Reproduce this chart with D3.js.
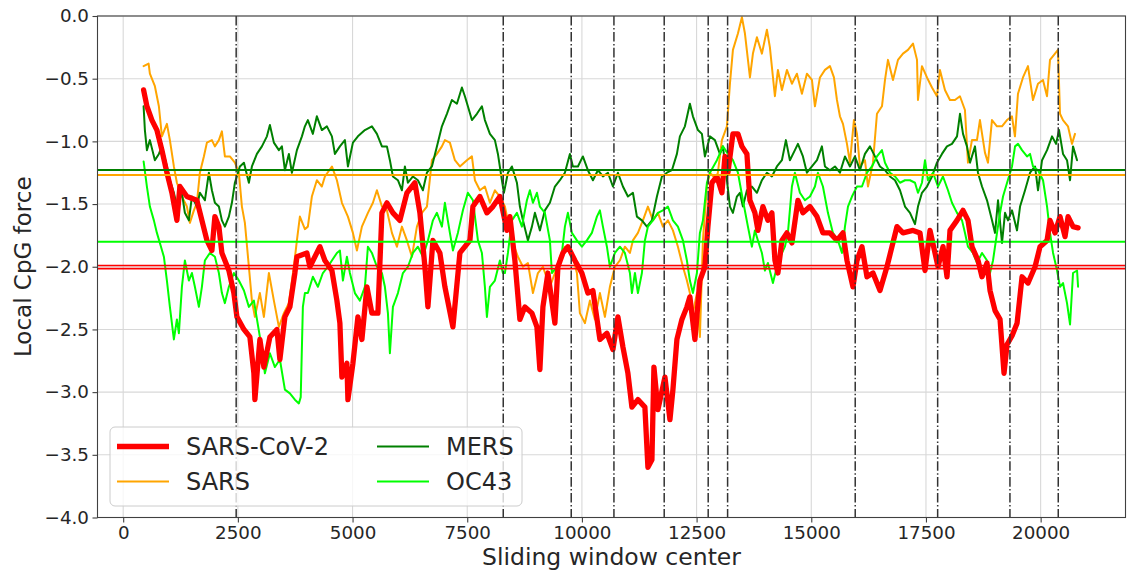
<!DOCTYPE html>
<html>
<head>
<meta charset="utf-8">
<script src="https://cdn.jsdelivr.net/npm/d3@7"></script>
<style>
body { margin: 0; background: #fff; }
svg { display: block; font-family: "DejaVu Sans", sans-serif; }
</style>
</head>
<body>
<script>
// series: [window center, local CpG force]
const sarsCov2 = [[445,-0.59],[517,-0.72],[626,-0.83],[735,-0.91],[844,-1.07],[953,-1.25],[1062,-1.41],[1171,-1.63],[1236,-1.36],[1389,-1.44],[1607,-1.47],[1716,-1.63],[1825,-1.79],[1934,-1.87],[1999,-1.60],[2086,-1.68],[2152,-1.89],[2304,-2.03],[2413,-2.21],[2479,-2.40],[2632,-2.50],[2762,-2.56],[2849,-2.85],[2871,-3.06],[2980,-2.58],[3067,-2.80],[3198,-2.56],[3351,-2.50],[3416,-2.74],[3525,-2.40],[3634,-2.32],[3743,-2.05],[3787,-1.92],[4005,-1.89],[4070,-2.00],[4288,-1.84],[4397,-1.95],[4550,-2.03],[4659,-2.27],[4724,-2.45],[4768,-2.88],[4877,-2.77],[4899,-3.06],[5008,-2.77],[5117,-2.40],[5204,-2.58],[5313,-2.16],[5422,-2.37],[5553,-2.37],[5640,-1.57],[5749,-1.49],[5880,-1.57],[6032,-1.63],[6185,-1.41],[6359,-1.33],[6468,-1.57],[6577,-2.00],[6643,-2.32],[6752,-1.79],[6904,-1.89],[7013,-2.16],[7188,-2.48],[7340,-1.89],[7558,-1.79],[7624,-1.52],[7776,-1.44],[7929,-1.57],[8060,-1.52],[8212,-1.44],[8365,-1.71],[8430,-1.60],[8539,-1.95],[8648,-2.42],[8757,-2.32],[8910,-2.37],[9019,-2.48],[9084,-2.82],[9150,-2.32],[9259,-2.05],[9411,-2.45],[9477,-2.00],[9586,-1.89],[9695,-1.84],[9847,-1.95],[9999,-2.05],[10130,-2.21],[10240,-2.19],[10392,-2.58],[10545,-2.53],[10676,-2.66],[10785,-2.40],[10894,-2.64],[11003,-2.85],[11090,-3.12],[11221,-3.06],[11373,-3.12],[11439,-3.60],[11526,-3.54],[11570,-2.80],[11657,-3.14],[11810,-2.88],[11919,-3.22],[11984,-2.98],[12071,-2.58],[12180,-2.42],[12289,-2.32],[12354,-2.24],[12463,-2.58],[12572,-2.11],[12681,-2.00],[12747,-1.68],[12834,-1.33],[12943,-1.28],[13052,-1.41],[13118,-1.12],[13183,-1.25],[13292,-0.94],[13401,-0.94],[13488,-1.04],[13597,-1.10],[13662,-1.47],[13771,-1.57],[13837,-1.71],[13946,-1.52],[14055,-1.63],[14142,-1.57],[14208,-1.95],[14273,-2.05],[14360,-1.79],[14469,-1.73],[14578,-1.81],[14709,-1.47],[14818,-1.57],[14971,-1.52],[15124,-1.60],[15254,-1.73],[15407,-1.73],[15560,-1.79],[15691,-1.73],[15778,-1.95],[15909,-2.16],[15996,-1.95],[16105,-1.84],[16214,-2.08],[16345,-2.05],[16498,-2.19],[16650,-2.00],[16759,-1.84],[16868,-1.68],[17000,-1.73],[17218,-1.71],[17370,-1.73],[17479,-2.03],[17588,-1.71],[17697,-1.89],[17763,-2.00],[17872,-1.84],[17959,-2.08],[18024,-1.71],[18177,-1.63],[18308,-1.55],[18417,-1.63],[18504,-1.84],[18635,-1.95],[18722,-2.08],[18831,-1.97],[18897,-2.19],[19006,-2.35],[19115,-2.42],[19202,-2.85],[19268,-2.62],[19377,-2.55],[19486,-2.45],[19595,-2.08],[19726,-2.13],[19878,-2.00],[19987,-1.84],[20140,-1.79],[20205,-1.63],[20314,-1.73],[20423,-1.60],[20532,-1.76],[20598,-1.60],[20707,-1.68],[20816,-1.69]];

const sars = [[445,-0.40],[554,-0.38],[582,-0.46],[691,-0.56],[778,-0.72],[844,-0.96],[953,-0.86],[1018,-0.99],[1105,-1.20],[1171,-1.33],[1280,-1.44],[1389,-1.52],[1454,-1.65],[1541,-1.55],[1607,-1.49],[1672,-1.25],[1759,-1.12],[1825,-1.01],[1934,-0.99],[1999,-1.04],[2086,-0.99],[2152,-0.92],[2217,-1.12],[2326,-1.12],[2435,-1.17],[2522,-1.25],[2588,-1.52],[2653,-1.65],[2740,-2.00],[2806,-2.27],[2871,-2.40],[2980,-2.21],[3067,-2.40],[3176,-2.05],[3285,-2.27],[3394,-2.48],[3503,-2.37],[3612,-2.29],[3721,-2.00],[3787,-1.79],[3852,-1.60],[3961,-1.70],[4026,-1.68],[4113,-1.44],[4222,-1.31],[4331,-1.36],[4397,-1.28],[4550,-1.20],[4659,-1.31],[4768,-1.49],[4899,-1.60],[5008,-1.73],[5095,-1.87],[5204,-1.68],[5335,-1.57],[5444,-1.49],[5531,-1.39],[5640,-1.52],[5749,-1.55],[5858,-1.73],[5967,-1.84],[6076,-1.68],[6185,-1.79],[6294,-1.92],[6403,-1.68],[6512,-1.57],[6621,-1.52],[6730,-1.15],[6839,-1.10],[6948,-1.04],[7013,-0.99],[7122,-1.01],[7231,-1.15],[7340,-1.20],[7493,-1.15],[7602,-1.12],[7667,-1.31],[7776,-1.39],[7885,-1.36],[7994,-1.49],[8103,-1.39],[8212,-1.44],[8321,-1.52],[8474,-1.79],[8605,-1.92],[8714,-2.00],[8823,-1.97],[8932,-2.21],[9041,-2.05],[9150,-2.00],[9302,-2.16],[9411,-2.05],[9520,-1.92],[9629,-1.84],[9782,-1.89],[9891,-2.05],[9956,-2.37],[10065,-2.45],[10174,-2.27],[10283,-2.42],[10392,-2.21],[10501,-2.40],[10610,-2.16],[10719,-2.00],[10828,-1.95],[10937,-1.84],[11046,-1.89],[11112,-1.79],[11221,-1.73],[11330,-1.63],[11439,-1.52],[11548,-1.63],[11657,-1.57],[11766,-1.68],[11875,-1.63],[11984,-1.71],[12093,-1.84],[12202,-2.00],[12289,-2.11],[12354,-2.21],[12420,-2.37],[12507,-2.21],[12572,-2.56],[12638,-1.79],[12725,-1.36],[12790,-1.25],[12943,-1.31],[13052,-0.99],[13161,-0.88],[13227,-0.54],[13292,-0.27],[13401,-0.14],[13488,-0.01],[13554,-0.14],[13663,-0.49],[13728,-0.30],[13815,-0.17],[13924,-0.30],[14033,-0.11],[14098,-0.25],[14207,-0.64],[14273,-0.43],[14360,-0.59],[14469,-0.43],[14578,-0.54],[14687,-0.46],[14796,-0.62],[14905,-0.46],[15014,-0.51],[15080,-0.72],[15189,-0.49],[15298,-0.43],[15407,-0.40],[15494,-0.49],[15560,-0.67],[15625,-0.80],[15691,-0.86],[15778,-1.02],[15843,-1.17],[15930,-0.83],[15996,-0.94],[16061,-1.20],[16170,-1.15],[16236,-1.36],[16345,-1.17],[16432,-0.78],[16541,-0.72],[16607,-0.51],[16672,-0.35],[16781,-0.51],[16890,-0.35],[16999,-0.30],[17108,-0.27],[17217,-0.22],[17305,-0.35],[17326,-0.67],[17413,-0.40],[17522,-0.49],[17631,-0.57],[17740,-0.64],[17805,-0.43],[17914,-0.59],[18023,-0.67],[18132,-0.67],[18241,-0.64],[18350,-0.75],[18416,-1.17],[18503,-0.99],[18612,-0.99],[18677,-0.83],[18786,-1.09],[18852,-1.17],[18939,-0.83],[19048,-0.88],[19157,-0.88],[19266,-0.83],[19375,-0.80],[19440,-0.96],[19506,-0.62],[19615,-0.49],[19724,-0.40],[19833,-0.67],[19942,-0.54],[20051,-0.51],[20139,-0.64],[20204,-0.35],[20313,-0.30],[20378,-0.27],[20422,-0.78],[20487,-0.83],[20596,-0.88],[20683,-1.02],[20749,-0.94]];

const mers = [[445,-0.72],[473,-0.91],[517,-1.07],[582,-0.99],[691,-1.15],[778,-1.10],[844,-1.04],[953,-1.20],[1018,-1.31],[1105,-1.41],[1171,-1.52],[1280,-1.41],[1345,-1.57],[1432,-1.63],[1498,-1.44],[1607,-1.52],[1672,-1.41],[1781,-1.47],[1868,-1.25],[1934,-1.39],[1999,-1.49],[2086,-1.52],[2152,-1.63],[2217,-1.68],[2304,-1.60],[2370,-1.49],[2435,-1.33],[2544,-1.20],[2632,-1.17],[2740,-1.33],[2806,-1.20],[2915,-1.10],[3024,-1.04],[3133,-0.96],[3198,-0.87],[3285,-1.01],[3394,-1.07],[3460,-1.04],[3525,-1.23],[3612,-1.10],[3678,-1.25],[3787,-1.07],[3896,-0.96],[3961,-0.88],[4026,-0.83],[4135,-0.94],[4222,-0.80],[4331,-0.91],[4441,-0.88],[4550,-0.96],[4615,-1.10],[4724,-1.04],[4833,-0.99],[4899,-1.20],[5008,-1.01],[5117,-0.96],[5269,-0.91],[5422,-0.88],[5531,-0.94],[5640,-1.04],[5749,-1.04],[5814,-1.15],[5880,-1.28],[5989,-1.31],[6076,-1.39],[6141,-1.20],[6207,-1.33],[6316,-1.28],[6425,-1.31],[6534,-1.39],[6621,-1.25],[6730,-1.20],[6839,-1.04],[6948,-0.88],[7057,-0.78],[7165,-0.67],[7275,-0.70],[7384,-0.57],[7449,-0.64],[7514,-0.72],[7602,-0.83],[7711,-0.78],[7820,-0.72],[7885,-0.83],[7994,-0.94],[8103,-0.99],[8169,-1.10],[8256,-1.31],[8300,-1.41],[8387,-1.25],[8474,-1.20],[8583,-1.33],[8648,-1.52],[8714,-1.63],[8823,-1.79],[8910,-1.68],[8975,-1.57],[9084,-1.71],[9193,-1.55],[9302,-1.49],[9411,-1.36],[9520,-1.31],[9629,-1.25],[9738,-1.10],[9804,-1.20],[9913,-1.20],[10021,-1.12],[10130,-1.23],[10240,-1.31],[10349,-1.23],[10458,-1.28],[10567,-1.25],[10676,-1.36],[10785,-1.25],[10894,-1.36],[11003,-1.44],[11112,-1.41],[11199,-1.60],[11308,-1.63],[11417,-1.68],[11526,-1.63],[11635,-1.44],[11744,-1.28],[11853,-1.25],[11962,-1.23],[12071,-1.10],[12136,-0.96],[12245,-0.88],[12354,-0.70],[12420,-0.80],[12529,-0.91],[12616,-0.94],[12681,-1.12],[12790,-0.96],[12899,-0.99],[13008,-1.10],[13074,-1.04],[13161,-1.31],[13227,-1.52],[13292,-1.57],[13379,-1.44],[13444,-1.41],[13510,-1.52],[13597,-1.39],[13706,-1.36],[13815,-1.41],[13924,-1.31],[14033,-1.25],[14142,-1.28],[14251,-1.20],[14360,-1.15],[14447,-0.99],[14534,-1.15],[14643,-1.07],[14709,-1.02],[14818,-1.12],[14905,-1.25],[15014,-1.20],[15124,-1.15],[15232,-1.04],[15298,-1.20],[15407,-1.23],[15516,-1.20],[15625,-1.25],[15734,-1.12],[15843,-1.20],[15952,-1.12],[16061,-1.23],[16170,-1.10],[16279,-1.04],[16388,-1.12],[16498,-1.20],[16607,-1.23],[16716,-1.28],[16825,-1.31],[16934,-1.39],[17043,-1.52],[17152,-1.57],[17261,-1.66],[17326,-1.52],[17413,-1.41],[17522,-1.36],[17631,-1.28],[17740,-1.17],[17849,-1.10],[17958,-1.04],[18067,-1.02],[18177,-0.96],[18242,-0.78],[18308,-0.94],[18394,-1.04],[18460,-1.17],[18569,-1.04],[18634,-1.25],[18722,-1.36],[18831,-1.47],[18940,-1.63],[19006,-1.73],[19071,-1.47],[19158,-1.81],[19224,-1.57],[19289,-1.63],[19376,-1.55],[19485,-1.71],[19551,-1.52],[19660,-1.39],[19769,-1.25],[19878,-1.20],[19943,-1.39],[20031,-1.15],[20140,-1.07],[20249,-0.96],[20336,-1.02],[20401,-0.91],[20488,-1.10],[20575,-1.15],[20641,-1.31],[20706,-1.04],[20794,-1.15]];

const oc43 = [[445,-1.16],[517,-1.36],[582,-1.52],[669,-1.63],[735,-1.73],[800,-1.81],[887,-1.92],[953,-2.11],[1018,-2.32],[1105,-2.58],[1171,-2.42],[1214,-2.53],[1280,-2.16],[1345,-1.95],[1432,-2.11],[1498,-2.05],[1563,-2.16],[1650,-2.32],[1716,-2.16],[1781,-1.95],[1890,-1.89],[1999,-1.92],[2086,-2.05],[2152,-2.21],[2217,-2.29],[2304,-2.16],[2413,-2.05],[2522,-2.11],[2632,-2.19],[2740,-2.32],[2849,-2.27],[2980,-2.56],[3089,-2.85],[3198,-2.69],[3307,-2.80],[3416,-2.74],[3525,-2.98],[3634,-3.01],[3743,-3.06],[3830,-3.09],[3870,-3.04],[3917,-2.32],[3961,-2.21],[4026,-2.21],[4135,-2.08],[4244,-2.16],[4353,-2.05],[4462,-2.00],[4550,-1.95],[4659,-1.89],[4724,-1.87],[4790,-2.11],[4877,-1.92],[4942,-2.05],[5051,-2.21],[5160,-2.27],[5269,-2.16],[5335,-1.84],[5422,-1.89],[5531,-2.00],[5640,-2.05],[5705,-2.16],[5771,-2.37],[5814,-2.69],[5880,-2.32],[5989,-2.21],[6098,-2.05],[6207,-2.00],[6316,-1.89],[6425,-1.84],[6534,-1.92],[6643,-1.79],[6752,-1.63],[6839,-1.57],[6948,-1.68],[7013,-1.49],[7122,-1.73],[7188,-1.87],[7296,-1.73],[7406,-1.55],[7514,-1.41],[7624,-1.47],[7733,-1.79],[7820,-1.89],[7885,-2.16],[7929,-2.40],[7994,-2.16],[8103,-2.11],[8212,-1.95],[8278,-2.05],[8321,-2.05],[8387,-1.89],[8474,-1.63],[8583,-1.57],[8692,-1.68],[8801,-1.47],[8866,-1.39],[8932,-1.49],[9019,-1.41],[9084,-1.52],[9193,-1.57],[9302,-1.79],[9346,-2.05],[9455,-2.00],[9564,-1.89],[9629,-1.68],[9695,-1.57],[9782,-1.73],[9891,-1.79],[10000,-1.84],[10108,-1.79],[10217,-1.73],[10327,-1.60],[10392,-1.55],[10458,-1.68],[10545,-1.84],[10610,-2.00],[10719,-1.89],[10828,-1.84],[10937,-1.89],[11046,-2.05],[11090,-2.21],[11156,-2.05],[11221,-2.21],[11308,-2.05],[11373,-1.79],[11439,-1.68],[11548,-1.63],[11657,-1.57],[11766,-1.55],[11875,-1.52],[11984,-1.63],[12093,-1.68],[12202,-1.79],[12289,-1.95],[12354,-2.11],[12420,-2.21],[12507,-2.05],[12572,-1.73],[12638,-1.63],[12725,-1.33],[12790,-1.25],[12943,-1.15],[13074,-1.04],[13183,-1.10],[13292,-1.15],[13401,-1.25],[13510,-1.47],[13619,-1.68],[13706,-1.84],[13771,-1.71],[13837,-1.79],[13924,-1.89],[13989,-2.03],[14055,-1.97],[14164,-2.13],[14251,-2.00],[14360,-1.89],[14425,-1.84],[14491,-1.73],[14578,-1.36],[14643,-1.25],[14752,-1.41],[14861,-1.47],[14971,-1.44],[15080,-1.36],[15145,-1.25],[15254,-1.36],[15363,-1.57],[15472,-1.73],[15581,-1.79],[15669,-1.89],[15734,-1.68],[15800,-1.52],[15887,-1.44],[15996,-1.36],[16105,-1.36],[16214,-1.25],[16323,-1.20],[16432,-1.12],[16541,-1.07],[16607,-1.17],[16716,-1.25],[16825,-1.28],[16934,-1.33],[17043,-1.31],[17152,-1.31],[17261,-1.33],[17326,-1.41],[17413,-1.33],[17479,-1.15],[17544,-1.31],[17653,-1.25],[17762,-1.36],[17871,-1.28],[17980,-1.39],[18067,-1.49],[18177,-1.57],[18286,-1.63],[18351,-1.73],[18416,-1.84],[18525,-1.89],[18612,-1.97],[18722,-1.89],[18831,-1.95],[18896,-2.05],[18962,-1.95],[19049,-1.73],[19115,-1.57],[19180,-1.44],[19268,-1.33],[19376,-1.20],[19442,-1.04],[19507,-1.02],[19594,-1.07],[19703,-1.12],[19769,-1.10],[19834,-1.20],[19943,-1.23],[20052,-1.31],[20140,-1.52],[20205,-1.73],[20271,-1.89],[20358,-2.03],[20423,-2.16],[20488,-2.13],[20575,-2.29],[20641,-2.46],[20706,-2.05],[20794,-2.03],[20816,-2.16]];

// genome-wide level of each virus (horizontal lines)
const levels = [["SARS-CoV-2", -1.99], ["SARS-CoV-2", -2.015], ["SARS", -1.268], ["MERS", -1.228], ["OC43", -1.80]];
// positions marked by dash-dot verticals
const marks = [2463, 8285, 9767, 10698, 11794, 12753, 13176, 15958, 17755, 19331, 20384];
const xTicks = [0, 2500, 5000, 7500, 10000, 12500, 15000, 17500, 20000];
const yTicks = [0, -0.5, -1, -1.5, -2, -2.5, -3, -3.5, -4];

const width = 1127, height = 573;
const margin = {top: 16, right: 1.5, bottom: 55.5, left: 97.5};

const color = d3.scaleOrdinal()
    .domain(["SARS-CoV-2", "SARS", "MERS", "OC43"])
    .range(["#ff0000", "#ffa500", "#008000", "#00ff00"]);

const lw = {"SARS-CoV-2": 5.3, "SARS": 2, "MERS": 2, "OC43": 2};

const series = [
  {name: "SARS", values: sars},
  {name: "MERS", values: mers},
  {name: "OC43", values: oc43},
  {name: "SARS-CoV-2", values: sarsCov2}
];

const x = d3.scaleLinear().domain([-560, 21850]).range([margin.left, width - margin.right]);
const y = d3.scaleLinear().domain([-4, 0]).range([height - margin.bottom, margin.top]);

const svg = d3.select("body").append("svg")
    .attr("width", width)
    .attr("height", height);

// grid
svg.append("g")
  .selectAll("line")
  .data(xTicks)
  .join("line")
    .attr("x1", d => x(d)).attr("x2", d => x(d))
    .attr("y1", y(0)).attr("y2", y(-4))
    .attr("stroke", "#d8d8d8").attr("stroke-width", 1.1);

svg.append("g")
  .selectAll("line")
  .data(yTicks)
  .join("line")
    .attr("x1", x.range()[0]).attr("x2", x.range()[1])
    .attr("y1", d => y(d)).attr("y2", d => y(d))
    .attr("stroke", "#d8d8d8").attr("stroke-width", 1.1);

svg.append("clipPath").attr("id", "clip")
  .append("rect")
    .attr("x", margin.left).attr("y", margin.top)
    .attr("width", width - margin.left - margin.right)
    .attr("height", height - margin.top - margin.bottom);

var plot = svg.append("g").attr("clip-path", "url(#clip)");

var line = d3.line()
    .x(d => x(d[0]))
    .y(d => y(d[1]));

plot.selectAll("path.series")
  .data(series)
  .join("path")
    .attr("class", "series")
    .attr("d", d => line(d.values))
    .attr("fill", "none")
    .attr("stroke", d => color(d.name))
    .attr("stroke-width", d => lw[d.name])
    .attr("stroke-linejoin", "round")
    .attr("stroke-linecap", "round");

plot.selectAll("line.level")
  .data(levels)
  .join("line")
    .attr("class", "level")
    .attr("x1", x.range()[0]).attr("x2", x.range()[1])
    .attr("y1", d => y(d[1])).attr("y2", d => y(d[1]))
    .attr("stroke", d => color(d[0]))
    .attr("stroke-width", d => d[0] == "SARS-CoV-2" ? 1.6 : 2);

plot.selectAll("line.mark")
  .data(marks)
  .join("line")
    .attr("class", "mark")
    .attr("x1", d => x(d)).attr("x2", d => x(d))
    .attr("y1", y(0)).attr("y2", y(-4))
    .attr("stroke", "#333")
    .attr("stroke-width", 1.5)
    .attr("stroke-dasharray", "9.6,2.4,1.5,2.4");

// frame
svg.append("rect")
    .attr("x", margin.left).attr("y", margin.top)
    .attr("width", width - margin.left - margin.right)
    .attr("height", height - margin.top - margin.bottom)
    .attr("fill", "none")
    .attr("stroke", "#404040")
    .attr("stroke-width", 1.1);

// axes
var fmtY = d => d3.format(".1f")(d).replace("-", "\u2212");

var xAxis = svg.append("g")
    .attr("transform", `translate(0,${y(-4)})`)
    .call(d3.axisBottom(x).tickValues(xTicks).tickFormat(d3.format("d")).tickSize(5).tickPadding(3.5));

var yAxis = svg.append("g")
    .attr("transform", `translate(${x.range()[0]},0)`)
    .call(d3.axisLeft(y).tickValues(yTicks).tickFormat(fmtY).tickSize(5).tickPadding(3.5));

[xAxis, yAxis].forEach(function(a) {
  a.select(".domain").remove();
  a.selectAll(".tick line").attr("stroke", "#404040").attr("stroke-width", 1.1);
  a.selectAll("text")
    .attr("fill", "#262626")
    .style("font-size", "18.3px")
    .style("font-family", "DejaVu Sans");
});

svg.append("text")
    .attr("x", (x.range()[0] + x.range()[1]) / 2)
    .attr("y", 564.5)
    .attr("text-anchor", "middle")
    .attr("fill", "#262626")
    .style("font-size", "23.5px")
    .text("Sliding window center");

svg.append("text")
    .attr("transform", `translate(31,${(y(0) + y(-4)) / 2}) rotate(-90)`)
    .attr("text-anchor", "middle")
    .attr("fill", "#262626")
    .style("font-size", "23px")
    .text("Local CpG force");

// legend
var legendItems = ["SARS-CoV-2", "SARS", "MERS", "OC43"];

var legend = svg.append("g");

legend.append("rect")
    .attr("x", 110).attr("y", 427)
    .attr("width", 412).attr("height", 79)
    .attr("rx", 5)
    .attr("fill", "white").attr("fill-opacity", 0.8)
    .attr("stroke", "#cccccc").attr("stroke-width", 1);

var item = legend.selectAll("g.item")
  .data(legendItems)
  .join("g")
    .attr("class", "item")
    .attr("transform", (d, i) => `translate(${117 + Math.floor(i / 2) * 260},${446.5 + (i % 2) * 35})`);

item.append("line")
    .attr("x1", 0).attr("x2", 52)
    .attr("stroke", d => color(d))
    .attr("stroke-width", d => lw[d]);

item.append("text")
    .attr("x", 69)
    .attr("dy", "0.36em")
    .attr("fill", "#262626")
    .style("font-size", "24px")
    .text(d => d);
</script>
</body>
</html>
